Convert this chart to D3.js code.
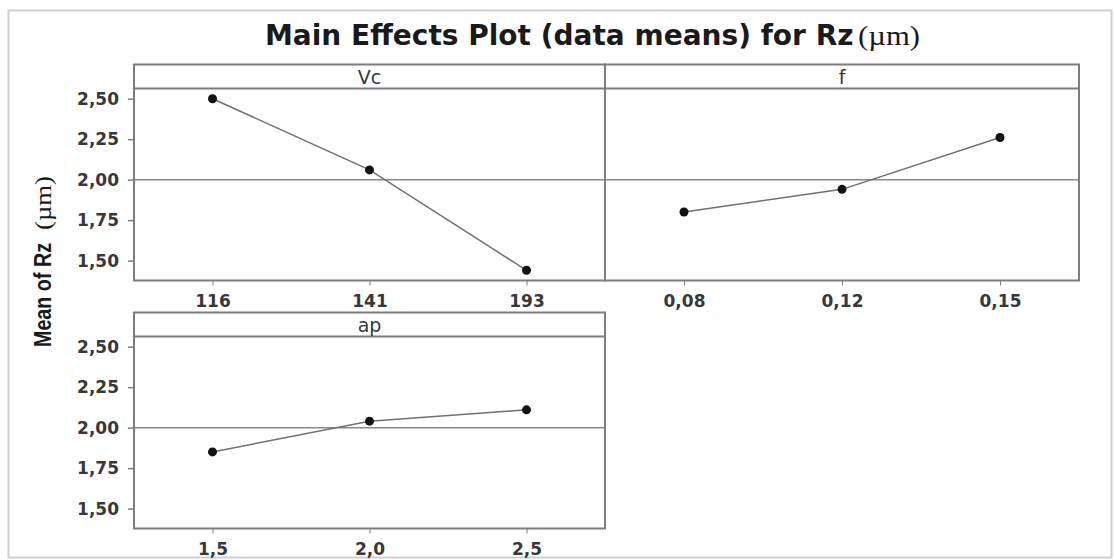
<!DOCTYPE html>
<html>
<head>
<meta charset="utf-8">
<script src="https://cdn.jsdelivr.net/npm/d3@7/dist/d3.min.js"></script>
<style>
  html, body { margin: 0; padding: 0; background: #fff; }
  svg { display: block; }
</style>
</head>
<body>
<svg id="chart" width="1114" height="560"></svg>
<script>
// Factor names and their level labels
const factorNames = ["Vc", "f", "ap"];
const vcLevels = ["116", "141", "193"];
const fLevels = ["0,08", "0,12", "0,15"];
const apLevels = ["1,5", "2,0", "2,5"];

// Mean of Rz (µm) at each level
const vcMeans = [2.50, 2.06, 1.44];
const fMeans = [1.80, 1.94, 2.26];
const apMeans = [1.85, 2.04, 2.11];

// Shared y axis
const yTicks = [1.50, 1.75, 2.00, 2.25, 2.50];
const yDomain = [1.377, 2.563];
const grandMean = 2.00;

const titleMain = "Main Effects Plot (data means) for Rz";
const unitText = "(µm)";
const yTitleMain = "Mean of Rz";

const svg = d3.select("#chart");
const sans = "'DejaVu Sans', Verdana, sans-serif";
const serif = "'Liberation Serif', 'Times New Roman', serif";

const locale = d3.formatLocale({ decimal: ",", thousands: ".", grouping: [3], currency: ["", ""] });
const fmt = locale.format(".2f");

// Outer frame
svg.append("rect")
  .attr("x", 8.5).attr("y", 10.5)
  .attr("width", 1103).attr("height", 547)
  .attr("fill", "#fff")
  .attr("stroke", "#cfcfcf")
  .attr("stroke-width", 2);

// Title
svg.append("text")
  .attr("x", 265).attr("y", 45)
  .attr("fill", "#1a1a1a")
  .attr("font-family", sans).attr("font-weight", "bold").attr("font-size", 28)
  .text(titleMain);
svg.append("text")
  .attr("x", 858).attr("y", 45)
  .attr("font-family", serif).attr("font-size", 28)
  .attr("fill", "#1a1a1a")
  .attr("textLength", 62).attr("lengthAdjust", "spacingAndGlyphs")
  .text(unitText);

// Y axis title (rotated)
const yT = svg.append("g").attr("transform", "translate(51,347) rotate(-90)");
yT.append("text")
  .attr("x", 0).attr("y", 0)
  .attr("font-family", "'Liberation Sans Narrow', 'Liberation Sans', Arial, sans-serif")
  .attr("font-weight", "bold").attr("font-size", 24)
  .attr("fill", "#1a1a1a")
  .attr("textLength", 104).attr("lengthAdjust", "spacingAndGlyphs")
  .text(yTitleMain);
yT.append("text")
  .attr("x", 117).attr("y", 0)
  .attr("font-family", serif).attr("font-size", 24)
  .attr("fill", "#1a1a1a")
  .attr("textLength", 54).attr("lengthAdjust", "spacingAndGlyphs")
  .text(unitText);

// Panel grid
const colX = [134, 605, 1079];
const rowTop = [64.5, 312.5];
const stripH = 24;
const plotH = 192;

const panels = [
  { name: factorNames[0], levels: vcLevels, means: vcMeans, col: 0, row: 0, yAxis: true },
  { name: factorNames[1], levels: fLevels, means: fMeans, col: 1, row: 0, yAxis: false },
  { name: factorNames[2], levels: apLevels, means: apMeans, col: 0, row: 1, yAxis: true }
];

const frameColor = "#7d7d7d";
const labelColor = "#383838";

panels.forEach(p => {
  const x0 = colX[p.col], x1 = colX[p.col + 1];
  const top = rowTop[p.row];
  const plotTop = top + stripH;
  const plotBottom = plotTop + plotH;

  const x = d3.scalePoint().domain(p.levels).range([x0, x1]).padding(0.5);
  const y = d3.scaleLinear().domain(yDomain).range([plotBottom, plotTop]);

  const g = svg.append("g");

  // Grand mean reference line
  g.append("line")
    .attr("x1", x0).attr("x2", x1)
    .attr("y1", y(grandMean)).attr("y2", y(grandMean))
    .attr("stroke", "#8a8a8a").attr("stroke-width", 1.5);

  // Connecting line and level means
  g.append("path")
    .datum(p.means)
    .attr("fill", "none")
    .attr("stroke", "#707070")
    .attr("stroke-width", 1.5)
    .attr("d", d3.line().x((d, i) => x(p.levels[i])).y(d => y(d)));

  g.selectAll("circle")
    .data(p.means)
    .join("circle")
    .attr("cx", (d, i) => x(p.levels[i]))
    .attr("cy", d => y(d))
    .attr("r", 4.5)
    .attr("fill", "#111");

  // Panel frame and strip
  g.append("rect")
    .attr("x", x0).attr("y", top)
    .attr("width", x1 - x0).attr("height", stripH + plotH)
    .attr("fill", "none")
    .attr("stroke", frameColor).attr("stroke-width", 2);
  g.append("line")
    .attr("x1", x0).attr("x2", x1)
    .attr("y1", plotTop).attr("y2", plotTop)
    .attr("stroke", frameColor).attr("stroke-width", 2);
  g.append("text")
    .attr("x", (x0 + x1) / 2).attr("y", top + 19)
    .attr("text-anchor", "middle")
    .attr("font-family", sans).attr("font-size", 19)
    .attr("fill", labelColor)
    .text(p.name);

  // X axis
  const xa = g.append("g")
    .attr("transform", `translate(0,${plotBottom})`)
    .call(d3.axisBottom(x).tickSize(5).tickPadding(9));
  xa.select(".domain").remove();
  xa.selectAll("line").attr("stroke", frameColor).attr("stroke-width", 1);
  xa.selectAll("text")
    .attr("font-family", sans).attr("font-weight", "bold").attr("font-size", 17)
    .attr("fill", labelColor);

  // Y axis
  if (p.yAxis) {
    const ya = g.append("g")
      .attr("transform", `translate(${x0},0)`)
      .call(d3.axisLeft(y).tickValues(yTicks).tickFormat(fmt).tickSize(6).tickPadding(9));
    ya.select(".domain").remove();
    ya.selectAll("line").attr("stroke", frameColor).attr("stroke-width", 1.5);
    ya.selectAll("text")
      .attr("font-family", sans).attr("font-weight", "bold").attr("font-size", 17)
      .attr("fill", labelColor);
  }
});
</script>
</body>
</html>
